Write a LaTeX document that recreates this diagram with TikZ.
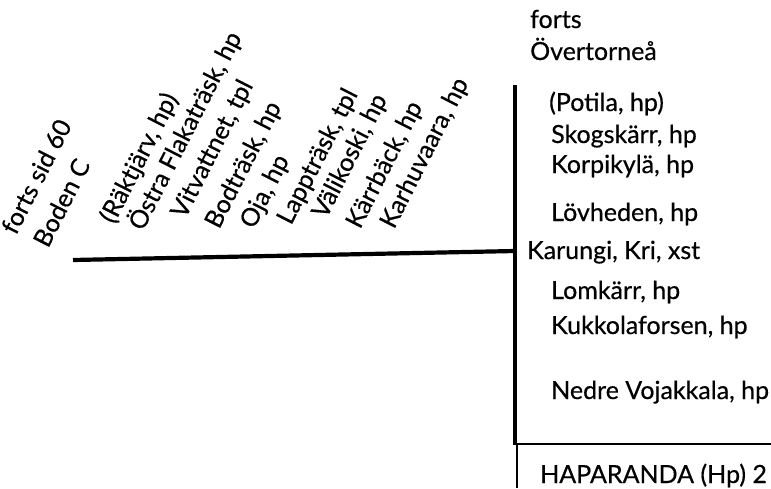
\documentclass[tikz,border=0pt]{standalone}
\usepackage{fontspec}
\setmainfont{Lato}[FakeBold=0.5]
\begin{document}
\begin{tikzpicture}[x=1pt,y=-1pt,
  lbl/.style={font=\fontsize{25}{30}\selectfont, anchor=base west, inner sep=0pt},
  rlbl/.style={lbl, rotate=63},
  thick line/.style={line width=4.2pt},
  thin line/.style={line width=1.6pt}]
\useasboundingbox (0,0) rectangle (771,488);
\clip (0,0) rectangle (771,488);
% rotated station labels
\node[rlbl] (forts1) at (16,236) {forts sid 60};
\node[rlbl] (boden) at (48,249) {Boden C};
\node[rlbl] (rak) at (114,225) {(Räktjärv, hp)};
\node[rlbl] (ostra) at (143,232) {Östra Flakaträsk, hp};
\node[rlbl] (vit) at (185,220) {Vitvattnet, tpl};
\node[rlbl] (bod) at (219,230) {Bodträsk, hp};
\node[rlbl] (oja) at (254,230) {Oja, hp};
\node[rlbl] (lapp) at (291,226) {Lappträsk, tpl};
\node[rlbl] (vali) at (326,220) {Välikoski, hp};
\node[rlbl] (karr) at (360,230) {Kärrbäck, hp};
\node[rlbl] (karh) at (394,230) {Karhuvaara, hp};
% right column
\node[lbl] (forts2) at (530,28) {forts};
\node[lbl] (over) at (530,60) {Övertorneå};
\node[lbl] (pot) at (549,111) {(Potila, hp)};
\node[lbl] (skog) at (551,143) {Skogskärr, hp};
\node[lbl] (korp) at (551,173) {Korpikylä, hp};
\node[lbl] (lov) at (551,221) {Lövheden, hp};
\node[lbl] (karu) at (527,259) {Karungi, Kri, xst};
\node[lbl] (lom) at (551,299) {Lomkärr, hp};
\node[lbl] (kuk) at (551,334) {Kukkolaforsen, hp};
\node[lbl] (ned) at (551,399) {Nedre Vojakkala, hp};
\node[lbl] (hap) at (540,483) {HAPARANDA (Hp) 2};
% lines
\coordinate (w) at (73,260);
\coordinate (j) at (515,251);
\coordinate (top) at (515,85);
\coordinate (bot) at (515,445);
\coordinate (r) at (771,444);
\coordinate (b1) at (517,444);
\coordinate (b2) at (517,488);
\draw[thick line] (w) -- (j);
\draw[thick line] (top) -- (bot);
\draw[thin line] (bot |- r) -- (r);
\draw[thin line] (b1) -- (b2);
\end{tikzpicture}
\end{document}
